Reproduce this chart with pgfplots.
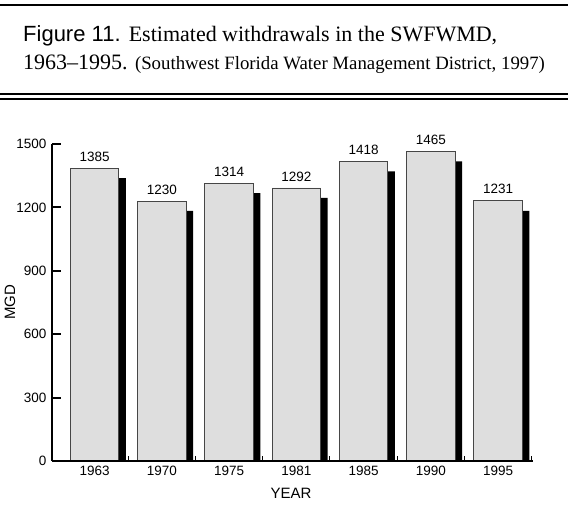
\documentclass[border=0pt]{standalone}
\usepackage{fontspec}
\setmainfont{Liberation Sans}
\newfontfamily\serif{Liberation Serif}
\usepackage{pgfplots}
\pgfplotsset{compat=1.18}
\definecolor{barfill}{RGB}{222,222,222}
\definecolor{baredge}{RGB}{70,70,70}

\begin{document}
\begin{tikzpicture}
\useasboundingbox (0,0) rectangle (568bp,512bp);
% frame rules and caption
\draw[line width=2bp] (0,507bp) -- (568bp,507bp);
\draw[line width=1.3bp] (0,418bp) -- (568bp,418bp);
\draw[line width=1.3bp] (0,413bp) -- (568bp,413bp);
\node[anchor=base west, inner sep=0] at (23bp,470bp)
  {\fontsize{22bp}{26bp}\selectfont Figure 11. {\serif Estimated withdrawals in the SWFWMD,}};
\node[anchor=base west, inner sep=0] at (23bp,442bp)
  {\fontsize{22bp}{26bp}\selectfont\serif 1963\textendash1995. {\fontsize{18.8bp}{22bp}\selectfont (Southwest Florida Water Management District, 1997)}};

\begin{axis}[
    at={(52bp,51bp)}, anchor=south west,
    scale only axis, width=481bp, height=317bp,
    xmin=-0.634, xmax=6.52, ymin=0, ymax=1500,
    axis lines=left, axis line style={-, line width=2.5bp},
    axis on top, clip=false,
    /pgf/number format/1000 sep={},
    /pgf/number format/assume math mode=true,
    ytick={0,300,...,1500},
    xtick={0,...,6},
    xticklabels={1963,1970,1975,1981,1985,1990,1995},
    minor xtick={0.5,1.5,...,6.5},
    tick align=inside,
    major tick length=9bp, minor tick length=5bp,
    every major x tick/.style={draw=none},
    every minor x tick/.style={line width=1bp, black},
    every major y tick/.style={line width=2bp, black},
    tick label style={font=\fontsize{13.5bp}{15bp}\selectfont},
    x tick label style={yshift=-2bp},
    y tick label style={xshift=-2bp},
    xlabel={YEAR}, ylabel={MGD},
    label style={font=\fontsize{15bp}{17bp}\selectfont},
    xlabel style={at={(axis description cs:0.497,-0.101)}, anchor=center},
    ylabel style={at={(axis description cs:-0.0873,0.5)}, anchor=center, rotate=0},
]
% drop shadows
\addplot[ybar, bar width=0.238, bar shift=0.346, fill=black, draw=none]
  coordinates {(0,1338) (1,1183) (2,1267) (3,1245) (4,1371) (5,1418) (6,1184)};
% withdrawals
\addplot[ybar, bar width=0.72, bar shift=0, fill=barfill, draw=baredge, line width=0.9bp,
    nodes near coords,
    nodes near coords style={font=\fontsize{13.5bp}{15bp}\selectfont, text=black, yshift=3bp}]
  coordinates {(0,1385) (1,1230) (2,1314) (3,1292) (4,1418) (5,1465) (6,1231)};
\end{axis}
\end{tikzpicture}
\end{document}
